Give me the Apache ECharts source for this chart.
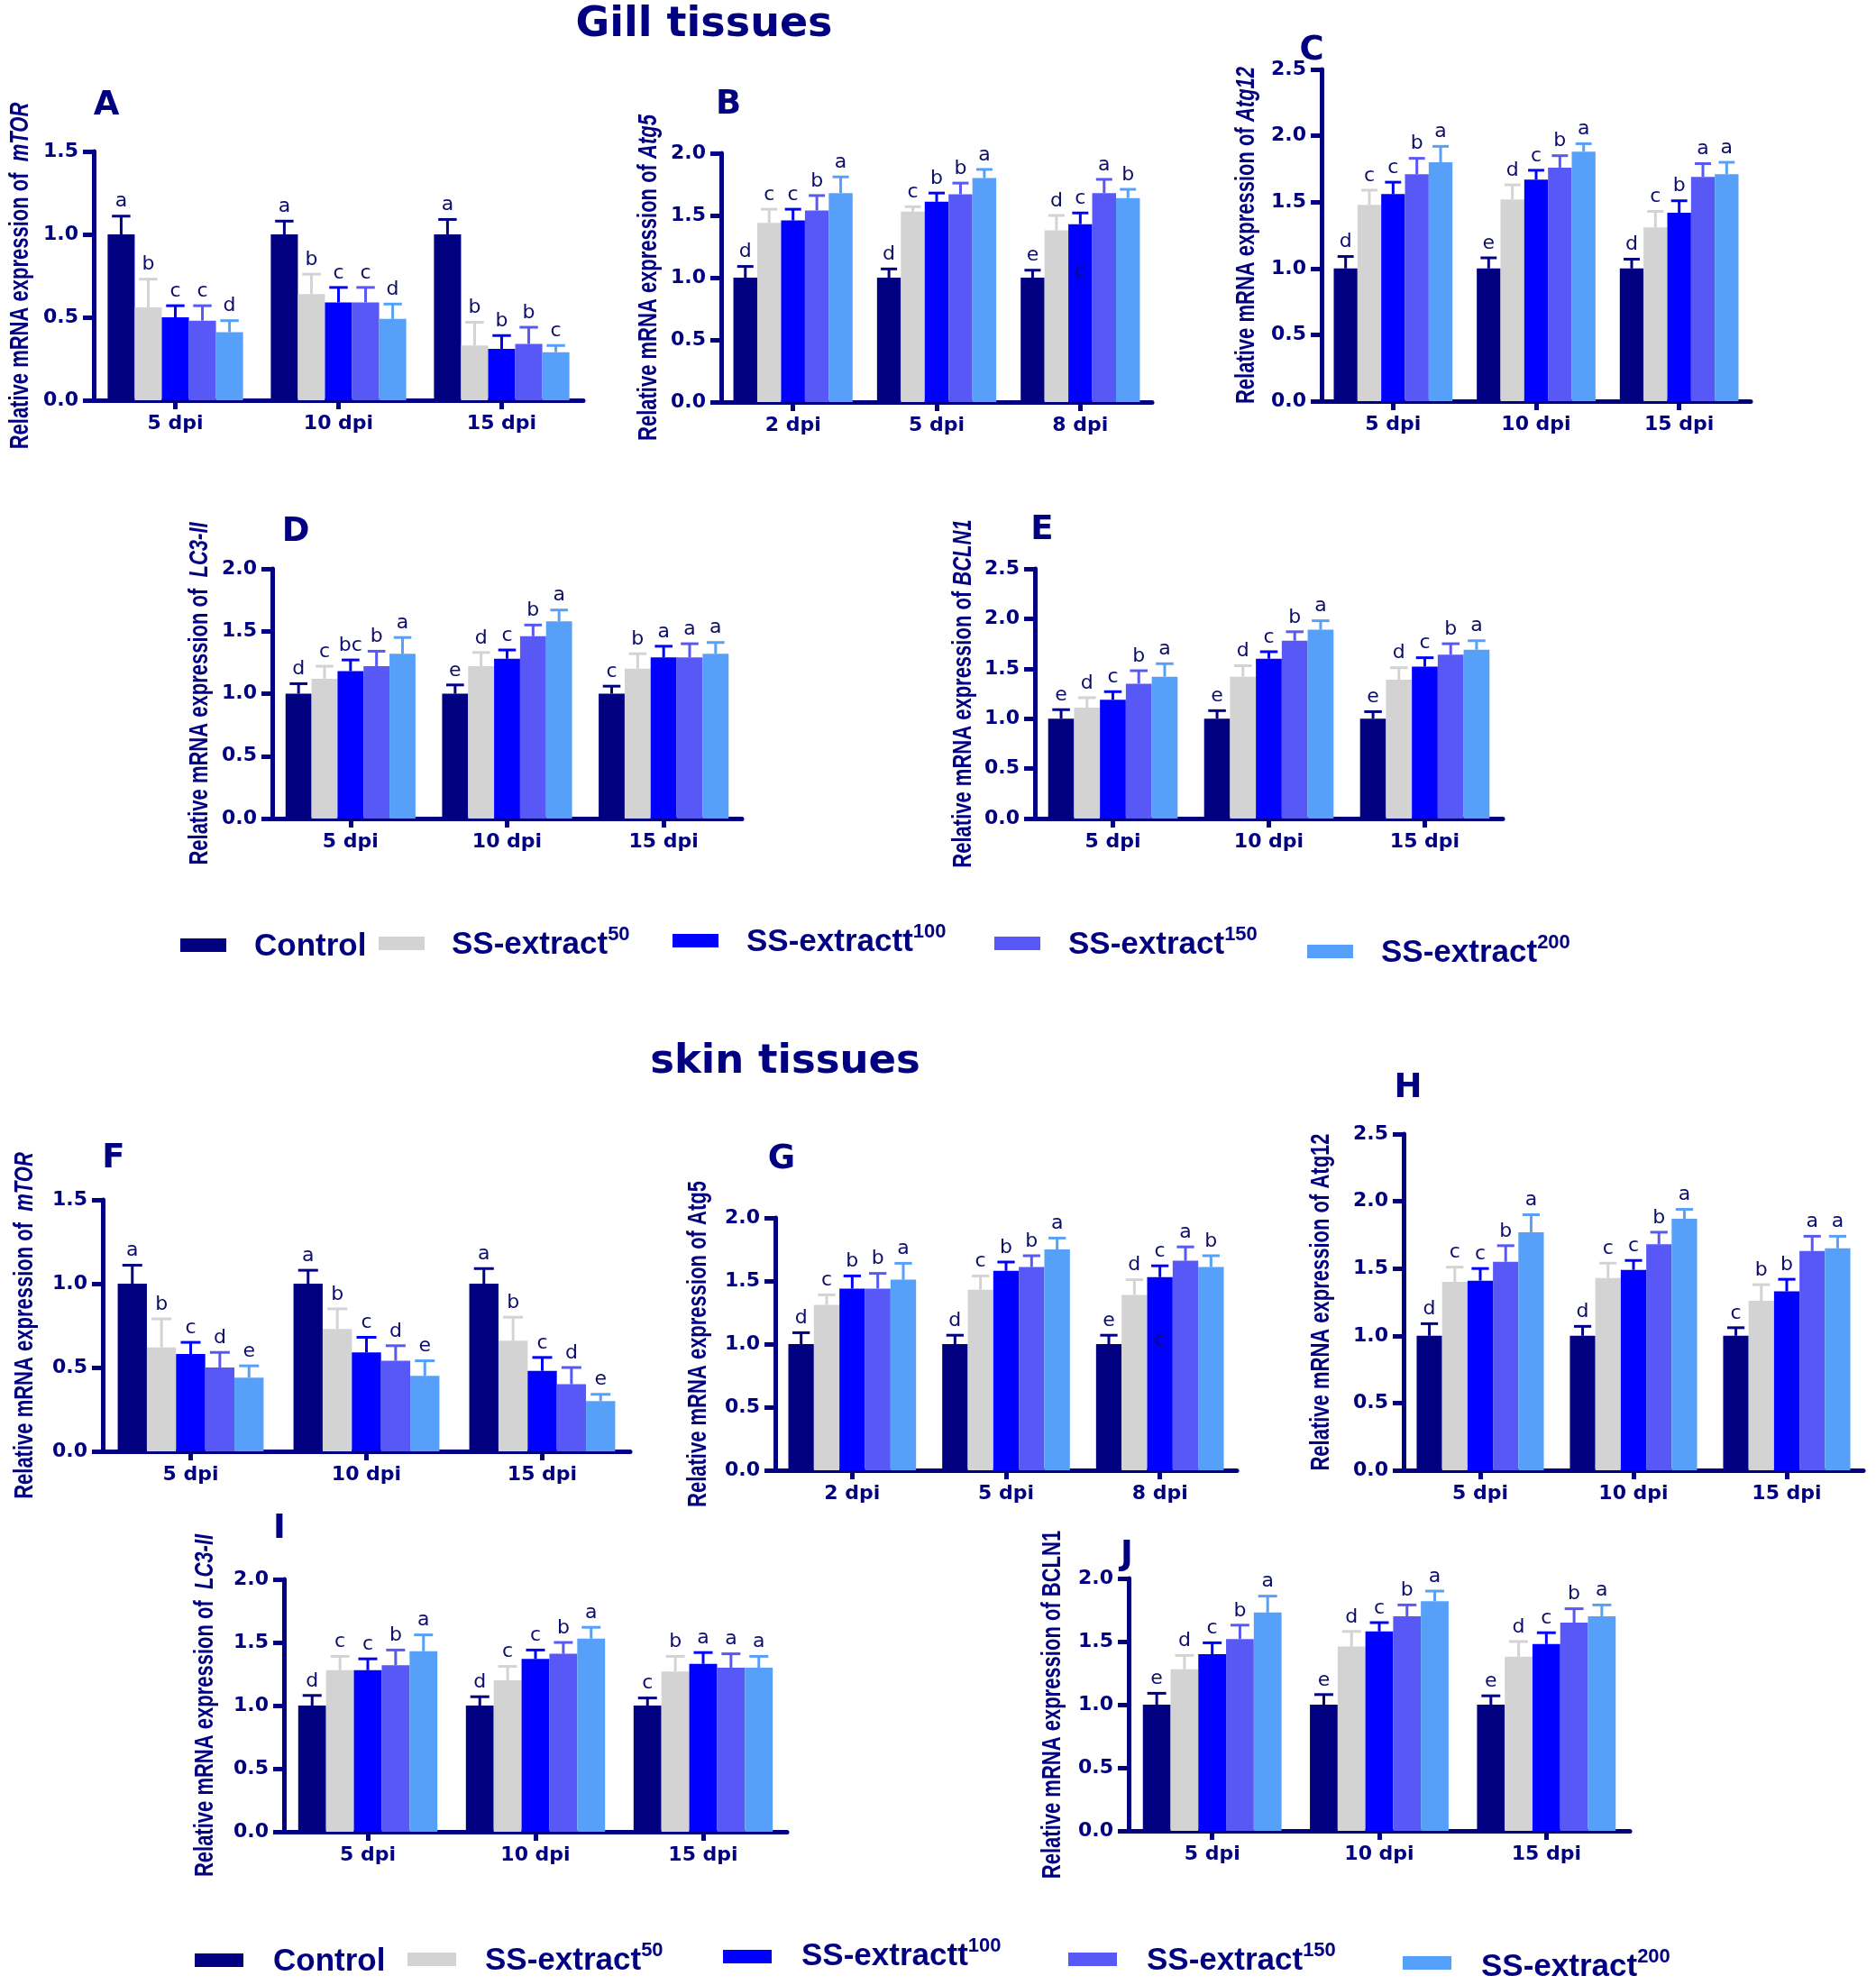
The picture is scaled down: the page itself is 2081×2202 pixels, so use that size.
<!DOCTYPE html>
<html>
<head>
<meta charset="utf-8">
<title>Gill and skin tissues - relative mRNA expression</title>
<script src="https://cdn.jsdelivr.net/npm/echarts/dist/echarts.min.js"></script>
<style>
  html, body { margin: 0; padding: 0; background: #fff; }
  #chart { width: 2081px; height: 2202px; }
</style>
</head>
<body>
<div id="chart"></div>
<script>
// groups and time points
var treatments = ['Control', 'SS-extract50', 'SS-extractt100', 'SS-extract150', 'SS-extract200'];
var dpiLate = ['5 dpi', '10 dpi', '15 dpi'];
var dpiEarly = ['2 dpi', '5 dpi', '8 dpi'];
var yTicks = ['0.0', '0.5', '1.0', '1.5', '2.0', '2.5'];

// one row per time point, one column per treatment
// Gill tissues
var meansA = [[1.00, 0.56, 0.50, 0.48, 0.41], [1.00, 0.64, 0.59, 0.59, 0.49], [1.00, 0.33, 0.31, 0.34, 0.29]];
var errA   = [[0.11, 0.17, 0.07, 0.09, 0.07], [0.08, 0.12, 0.09, 0.09, 0.09], [0.09, 0.14, 0.08, 0.10, 0.04]];
var sigA   = [['a', 'b', 'c', 'c', 'd'], ['a', 'b', 'c', 'c', 'd'], ['a', 'b', 'b', 'b', 'c']];

var meansB = [[1.00, 1.44, 1.46, 1.54, 1.68], [1.00, 1.53, 1.61, 1.67, 1.80], [1.00, 1.38, 1.43, 1.68, 1.64]];
var errB   = [[0.09, 0.11, 0.09, 0.12, 0.13], [0.07, 0.04, 0.07, 0.09, 0.07], [0.06, 0.12, 0.09, 0.11, 0.07]];
var sigB   = [['d', 'c', 'c', 'b', 'a'], ['d', 'c', 'b', 'b', 'a'], ['e', 'd', 'c', 'a', 'b']];

var meansC = [[1.00, 1.48, 1.56, 1.71, 1.80], [1.00, 1.52, 1.67, 1.76, 1.88], [1.00, 1.31, 1.42, 1.69, 1.71]];
var errC   = [[0.09, 0.11, 0.09, 0.12, 0.12], [0.08, 0.11, 0.07, 0.09, 0.06], [0.07, 0.12, 0.09, 0.10, 0.09]];
var sigC   = [['d', 'c', 'c', 'b', 'a'], ['e', 'd', 'c', 'b', 'a'], ['d', 'c', 'b', 'a', 'a']];

var meansD = [[1.00, 1.12, 1.18, 1.22, 1.32], [1.00, 1.22, 1.28, 1.46, 1.58], [1.00, 1.20, 1.29, 1.29, 1.32]];
var errD   = [[0.08, 0.10, 0.09, 0.12, 0.13], [0.07, 0.11, 0.07, 0.09, 0.09], [0.06, 0.12, 0.09, 0.11, 0.09]];
var sigD   = [['d', 'c', 'bc', 'b', 'a'], ['e', 'd', 'c', 'b', 'a'], ['c', 'b', 'a', 'a', 'a']];

var meansE = [[1.00, 1.11, 1.19, 1.35, 1.42], [1.00, 1.42, 1.60, 1.78, 1.89], [1.00, 1.39, 1.52, 1.64, 1.69]];
var errE   = [[0.09, 0.10, 0.08, 0.13, 0.13], [0.08, 0.11, 0.07, 0.09, 0.09], [0.07, 0.12, 0.09, 0.11, 0.09]];
var sigE   = [['e', 'd', 'c', 'b', 'a'], ['e', 'd', 'c', 'b', 'a'], ['e', 'd', 'c', 'b', 'a']];

// skin tissues
var meansF = [[1.00, 0.62, 0.58, 0.50, 0.44], [1.00, 0.73, 0.59, 0.54, 0.45], [1.00, 0.66, 0.48, 0.40, 0.30]];
var errF   = [[0.11, 0.17, 0.07, 0.09, 0.07], [0.08, 0.12, 0.09, 0.09, 0.09], [0.09, 0.14, 0.08, 0.10, 0.04]];
var sigF   = [['a', 'b', 'c', 'd', 'e'], ['a', 'b', 'c', 'd', 'e'], ['a', 'b', 'c', 'd', 'e']];

var meansG = [[1.00, 1.31, 1.44, 1.44, 1.51], [1.00, 1.43, 1.58, 1.61, 1.75], [1.00, 1.39, 1.53, 1.66, 1.61]];
var errG   = [[0.09, 0.08, 0.10, 0.12, 0.13], [0.07, 0.11, 0.07, 0.09, 0.09], [0.07, 0.12, 0.09, 0.11, 0.09]];
var sigG   = [['d', 'c', 'b', 'b', 'a'], ['d', 'c', 'b', 'b', 'a'], ['e', 'd', 'c', 'a', 'b']];

var meansH = [[1.00, 1.40, 1.41, 1.55, 1.77], [1.00, 1.43, 1.49, 1.68, 1.87], [1.00, 1.26, 1.33, 1.63, 1.65]];
var errH   = [[0.09, 0.11, 0.09, 0.12, 0.13], [0.07, 0.11, 0.07, 0.09, 0.07], [0.06, 0.12, 0.09, 0.11, 0.09]];
var sigH   = [['d', 'c', 'c', 'b', 'a'], ['d', 'c', 'c', 'b', 'a'], ['c', 'b', 'b', 'a', 'a']];

var meansI = [[1.00, 1.28, 1.28, 1.32, 1.43], [1.00, 1.20, 1.37, 1.41, 1.53], [1.00, 1.27, 1.33, 1.30, 1.30]];
var errI   = [[0.08, 0.11, 0.09, 0.12, 0.13], [0.07, 0.11, 0.07, 0.09, 0.09], [0.06, 0.12, 0.09, 0.11, 0.09]];
var sigI   = [['d', 'c', 'c', 'b', 'a'], ['d', 'c', 'c', 'b', 'a'], ['c', 'b', 'a', 'a', 'a']];

var meansJ = [[1.00, 1.28, 1.40, 1.52, 1.73], [1.00, 1.46, 1.58, 1.70, 1.82], [1.00, 1.38, 1.48, 1.65, 1.70]];
var errJ   = [[0.09, 0.11, 0.09, 0.11, 0.13], [0.08, 0.12, 0.07, 0.09, 0.08], [0.07, 0.12, 0.09, 0.11, 0.09]];
var sigJ   = [['e', 'd', 'c', 'b', 'a'], ['e', 'd', 'c', 'b', 'a'], ['e', 'd', 'c', 'b', 'a']];

// stray letters printed inside bars in the original figure
var strayLabels = [
  { tag: 'B', cat: 2, ser: 2, y: 1.04, text: 'c' },
  { tag: 'G', cat: 2, ser: 2, y: 1.03, text: 'c' }
];

var navy = '#000080';
var sigColor = '#0d0d6b';
var treatColors = ['#000080', '#d3d3d3', '#0000ff', '#5858f6', '#56a0fa'];
var GAP = 0.17;
var wide = 'DejaVu Sans';
var arial = 'Liberation Sans';

// titleOff: distance from the y axis line to the centre of the rotated y title
var panels = [
  { tag: 'A', cats: dpiLate,  means: meansA, errs: errA, sigs: sigA, max: 1.5, gene: 'mTOR',   ital: true,  sp: '  ', box: [104, 168, 543, 276],  titleOff: 81, tagPos: [118, 117] },
  { tag: 'B', cats: dpiEarly, means: meansB, errs: errB, sigs: sigB, max: 2.0, gene: 'Atg5',   ital: true,  sp: ' ',  box: [800, 170, 478, 276],  titleOff: 80, tagPos: [808, 116] },
  { tag: 'C', cats: dpiLate,  means: meansC, errs: errC, sigs: sigC, max: 2.5, gene: 'Atg12',  ital: true,  sp: ' ',  box: [1466, 77, 476, 368],  titleOff: 83, tagPos: [1455, 56] },
  { tag: 'D', cats: dpiLate,  means: meansD, errs: errD, sigs: sigD, max: 2.0, gene: 'LC3-II', ital: true,  sp: '  ', box: [302, 631, 521, 277],  titleOff: 80, tagPos: [328, 590] },
  { tag: 'E', cats: dpiLate,  means: meansE, errs: errE, sigs: sigE, max: 2.5, gene: 'BCLN1',  ital: true,  sp: ' ',  box: [1148, 631, 519, 277], titleOff: 79, tagPos: [1156, 588] },
  { tag: 'F', cats: dpiLate,  means: meansF, errs: errF, sigs: sigF, max: 1.5, gene: 'mTOR',   ital: true,  sp: '  ', box: [114, 1331, 585, 279], titleOff: 86, tagPos: [126, 1285] },
  { tag: 'G', cats: dpiEarly, means: meansG, errs: errG, sigs: sigG, max: 2.0, gene: 'Atg5',   ital: false, sp: ' ',  box: [860, 1351, 512, 280], titleOff: 85, tagPos: [867, 1286] },
  { tag: 'H', cats: dpiLate,  means: meansH, errs: errH, sigs: sigH, max: 2.5, gene: 'Atg12',  ital: false, sp: ' ',  box: [1557, 1258, 510, 373], titleOff: 91, tagPos: [1562, 1207] },
  { tag: 'I', cats: dpiLate,  means: meansI, errs: errI, sigs: sigI, max: 2.0, gene: 'LC3-II', ital: true,  sp: '  ', box: [315, 1752, 558, 280], titleOff: 87, tagPos: [310, 1696] },
  { tag: 'J', cats: dpiLate,  means: meansJ, errs: errJ, sigs: sigJ, max: 2.0, gene: 'BCLN1',  ital: false, sp: ' ',  box: [1252, 1751, 556, 280], titleOff: 84, tagPos: [1250, 1725] }
];

// legend rows: swatch box and text anchor
var legendRows = [
  [
    { sw: [200, 1041, 51, 15], tx: [282, 1048], main: 'Control', sup: '' },
    { sw: [420, 1039, 51, 15], tx: [501, 1046], main: 'SS-extract', sup: '50' },
    { sw: [746, 1036, 51, 15], tx: [828, 1043], main: 'SS-extractt', sup: '100' },
    { sw: [1103, 1039, 51, 15], tx: [1185, 1046], main: 'SS-extract', sup: '150' },
    { sw: [1450, 1048, 51, 15], tx: [1532, 1055], main: 'SS-extract', sup: '200' }
  ],
  [
    { sw: [216, 2167, 54, 15], tx: [303, 2174], main: 'Control', sup: '' },
    { sw: [452, 2166, 54, 15], tx: [538, 2173], main: 'SS-extract', sup: '50' },
    { sw: [802, 2163, 54, 15], tx: [889, 2168], main: 'SS-extractt', sup: '100' },
    { sw: [1185, 2166, 54, 15], tx: [1272, 2173], main: 'SS-extract', sup: '150' },
    { sw: [1556, 2170, 54, 15], tx: [1643, 2180], main: 'SS-extract', sup: '200' }
  ]
];

function makeErr(p, s) {
  return function (params, api) {
    var c = api.value(0), m = api.value(1), e = api.value(2);
    var base = api.coord([c, m]);
    var top = api.coord([c, m + e]);
    var band = api.size([1, 0])[0];
    var gw = band * (1 - GAP), bw = gw / 5;
    var x = base[0] - gw / 2 + bw * (s + 0.5);
    var hw = bw * 0.34;
    var col = treatColors[s];
    var kids = [
      { type: 'line', shape: { x1: x, y1: base[1], x2: x, y2: top[1] }, style: { stroke: col, lineWidth: 3 } },
      { type: 'line', shape: { x1: x - hw, y1: top[1], x2: x + hw, y2: top[1] }, style: { stroke: col, lineWidth: 3 } },
      { type: 'text', x: x, y: top[1] - 5,
        style: { text: p.sigs[c][s], fill: sigColor, fontSize: 22, fontFamily: wide, align: 'center', verticalAlign: 'bottom' } }
    ];
    strayLabels.forEach(function (d) {
      if (d.tag === p.tag && d.cat === c && d.ser === s) {
        kids.push({ type: 'text', x: x, y: api.coord([c, d.y])[1],
          style: { text: d.text, fill: sigColor, fontSize: 22, fontFamily: wide, align: 'center', verticalAlign: 'middle' } });
      }
    });
    return { type: 'group', children: kids };
  };
}

var grid = [], xAxis = [], yAxis = [], series = [], graphic = [];

panels.forEach(function (p, i) {
  grid.push({ left: p.box[0], top: p.box[1], width: p.box[2], height: p.box[3], containLabel: false });
  xAxis.push({
    gridIndex: i, type: 'category', data: p.cats,
    axisLine: { show: true, lineStyle: { color: navy, width: 5 } },
    axisTick: { show: true, alignWithLabel: true, interval: 0, length: 10, lineStyle: { color: navy, width: 5 } },
    axisLabel: { color: navy, fontFamily: wide, fontWeight: 'bold', fontSize: 22, margin: 15, interval: 0 }
  });
  yAxis.push({
    gridIndex: i, type: 'value', min: 0, max: p.max, interval: 0.5,
    splitLine: { show: false },
    axisLine: { show: true, lineStyle: { color: navy, width: 5 } },
    axisTick: { show: true, length: 12, lineStyle: { color: navy, width: 5 } },
    axisLabel: { color: navy, fontFamily: wide, fontWeight: 'bold', fontSize: 22, margin: 17,
      formatter: function (v) { return yTicks[Math.round(v * 2)]; } }
  });
  treatments.forEach(function (t, s) {
    series.push({
      type: 'bar', name: t, xAxisIndex: i, yAxisIndex: i,
      data: p.means.map(function (r) { return r[s]; }),
      itemStyle: { color: treatColors[s] },
      barGap: '0%', barCategoryGap: (GAP * 100) + '%',
      animation: false, silent: true
    });
    series.push({
      type: 'custom', xAxisIndex: i, yAxisIndex: i, z: 3,
      data: p.means.map(function (r, c) { return [c, r[s], p.errs[c][s]]; }),
      renderItem: makeErr(p, s),
      animation: false, silent: true
    });
  });

  // y title: tall, narrow lettering as in the figure (stretched across the glyph height)
  var geneTxt = p.ital ? '{i|' + p.gene + '}' : '{n|' + p.gene + '}';
  graphic.push({
    type: 'text', x: p.box[0] - p.titleOff, y: p.box[1] + p.box[3] / 2,
    rotation: Math.PI / 2, scaleY: 1.3,
    style: {
      text: '{n|Relative mRNA expression of' + p.sp + '}' + geneTxt,
      align: 'center', verticalAlign: 'middle',
      rich: {
        n: { fill: navy, fontFamily: arial, fontWeight: 'bold', fontSize: 22 },
        i: { fill: navy, fontFamily: arial, fontWeight: 'bold', fontStyle: 'italic', fontSize: 22 }
      }
    }
  });
  graphic.push({ type: 'text', x: p.tagPos[0], y: p.tagPos[1],
    style: { text: p.tag, fill: navy, fontFamily: wide, fontWeight: 'bold', fontSize: 37, align: 'center', verticalAlign: 'middle' } });
});

graphic.push({ type: 'text', x: 781, y: 28,
  style: { text: 'Gill tissues', fill: navy, fontFamily: wide, fontWeight: 'bold', fontSize: 46, align: 'center', verticalAlign: 'middle' } });
graphic.push({ type: 'text', x: 871, y: 1178,
  style: { text: 'skin tissues', fill: navy, fontFamily: wide, fontWeight: 'bold', fontSize: 45, align: 'center', verticalAlign: 'middle' } });

legendRows.forEach(function (row) {
  row.forEach(function (it, k) {
    graphic.push({ type: 'rect', shape: { x: it.sw[0], y: it.sw[1], width: it.sw[2], height: it.sw[3] },
      style: { fill: treatColors[k] } });
    var txt = '{m|' + it.main + '}' + (it.sup ? '{s|' + it.sup + '}' : '');
    graphic.push({ type: 'text', x: it.tx[0], y: it.tx[1],
      style: {
        text: txt, align: 'left', verticalAlign: 'middle',
        rich: {
          m: { fill: navy, fontFamily: arial, fontWeight: 'bold', fontSize: 35, lineHeight: 40, verticalAlign: 'bottom' },
          s: { fill: navy, fontFamily: arial, fontWeight: 'bold', fontSize: 22, lineHeight: 24, verticalAlign: 'top' }
        }
      } });
  });
});

var myChart = echarts.init(document.getElementById('chart'));
myChart.setOption({
  backgroundColor: '#ffffff',
  animation: false,
  grid: grid,
  xAxis: xAxis,
  yAxis: yAxis,
  series: series,
  graphic: graphic
});
</script>
</body>
</html>
